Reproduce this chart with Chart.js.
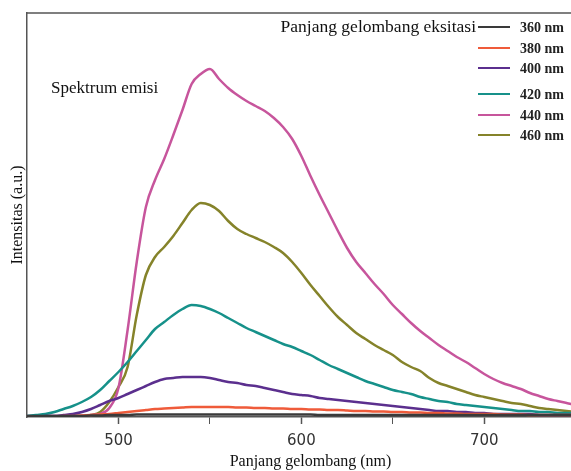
<!DOCTYPE html>
<html>
<head>
<meta charset="utf-8">
<script src="https://cdn.jsdelivr.net/npm/chart.js"></script>
<style>
  html, body { margin: 0; padding: 0; background: #fff; overflow: hidden; }
  #wrap { width: 600px; height: 471px; }
</style>
</head>
<body>
<div id="wrap"><canvas id="c" width="600" height="471"></canvas></div>
<script>
// wavelength (nm)
const wavelengths = [450,455,460,465,470,475,480,485,490,495,
  500,505,510,515,520,525,530,535,540,545,
  550,555,560,565,570,575,580,585,590,595,
  600,605,610,615,620,625,630,635,640,645,
  650,655,660,665,670,675,680,685,690,695,
  700,705,710,715,720,725,730,735,740,745,750];

// emission intensity (a.u.) for each excitation wavelength
const em360 = [1,1,1,1,1,1,1,1.5,1.5,2, 2,2,2.5,2.5,2.5,2.5,2.5,2.5,2.5,2.5,
  2.5,2.5,2.5,2.5,2.5,2.5,2.5,2.5,2.5,2.5, 2.5,2.5,2,2,2,2,2,2,2,2,
  2,2,2,2,2,2,2,2,2,2, 2,2,2,2,2,2,2,2,2,2, 2];
const em380 = [0,0,0.5,0.5,1,1,1.5,2,2.5,3, 4,5,6,7,8,8.5,9,9.5,10,10,
  10,10,10,9.5,9.5,9,9,8.5,8.5,8, 8,7.5,7.5,7,7,6.5,6,6,5.5,5.5,
  5,5,4.5,4.5,4,4,3.5,3.5,3,3, 3,3,2.5,2.5,2.5,2,2,2,2,2, 2];
const em400 = [0,0,1,1,2,3,5,8,12,16, 19,23,27,31,35,38,39,40,40,40,
  39,37,35,34,32,31,29,27,25,23, 22,21,19,18,17,16,15,14,13,12,
  11,10,9,8,7,6,6,5,5,4, 4,3,3,3,3,3,2,2,2,2, 2];
const em420 = [1,2,3,5,8,11,15,20,27,36, 45,55,66,77,88,95,102,108,112,111,
  108,104,99,94,89,85,81,77,73,70, 66,62,57,52,48,44,40,36,33,30,
  27,25,23,20,18,16,15,13,12,11, 10,9,8,7,6,6,5,5,4,4, 4];
const em440 = [1,1,1,1,1,1,1,2,3,9, 29,87,155,210,237,258,282,307,333,343,
  348,338,329,322,316,311,306,299,290,278, 261,241,222,204,186,169,155,144,133,123,
  112,103,94,86,79,72,66,60,55,49, 43,38,34,31,28,24,21,18,16,14, 12];
const em460 = [0,0,0,0,0,1,1,2,5,15, 30,50,102,142,160,170,181,194,207,214,
  212,206,196,188,183,179,175,170,164,155, 144,132,121,110,100,92,84,78,72,67,
  62,55,50,46,39,34,31,28,25,22, 20,18,16,14,13,11,9,8,7,6, 5];

const seriesLabels = ['360 nm', '380 nm', '400 nm', '420 nm', '440 nm', '460 nm'];
const seriesData = [em360, em380, em400, em420, em440, em460];
const seriesColors = ['#3a3a3a', '#ef5b3a', '#5b2f8e', '#16918a', '#c7559c', '#85832a'];

const xTicks = [500, 600, 700];
const legendTitle = 'Panjang gelombang eksitasi';
const noteText = 'Spektrum emisi';
const xTitle = 'Panjang gelombang (nm)';
const yTitle = 'Intensitas (a.u.)';

const serif = '"Liberation Serif", "DejaVu Serif", serif';

// frame line, note and the legend box at top right
const extras = {
  id: 'extras',
  afterDraw(chart) {
    const ctx = chart.ctx;
    const a = chart.chartArea;
    ctx.save();
    ctx.strokeStyle = '#555';
    ctx.lineWidth = 1.5;
    ctx.beginPath();
    ctx.moveTo(a.left, a.top);
    ctx.lineTo(a.right, a.top);
    ctx.stroke();

    ctx.fillStyle = '#111';
    ctx.textBaseline = 'middle';
    ctx.font = '17px ' + serif;
    ctx.textAlign = 'left';
    ctx.fillText(noteText, 51, 89);

    ctx.font = '17.5px ' + serif;
    ctx.textAlign = 'right';
    ctx.fillText(legendTitle, 476, 27);

    const rows = [27, 48, 68, 94, 115, 135];
    ctx.font = 'bold 14px ' + serif;
    ctx.textAlign = 'left';
    seriesLabels.forEach((lab, i) => {
      ctx.strokeStyle = seriesColors[i];
      ctx.lineWidth = 2;
      ctx.beginPath();
      ctx.moveTo(478, rows[i]);
      ctx.lineTo(510, rows[i]);
      ctx.stroke();
      ctx.fillStyle = '#222';
      ctx.fillText(lab, 520, rows[i] + 1);
    });
    ctx.restore();
  }
};

new Chart(document.getElementById('c'), {
  type: 'line',
  data: {
    datasets: seriesData.map((vals, i) => ({
      label: seriesLabels[i],
      data: wavelengths.map((w, j) => ({x: w, y: vals[j]})),
      borderColor: seriesColors[i],
      backgroundColor: seriesColors[i],
      borderWidth: 2.5,
      pointRadius: 0,
      cubicInterpolationMode: 'monotone',
      fill: false
    }))
  },
  options: {
    responsive: false,
    animation: false,
    devicePixelRatio: 1,
    layout: { padding: { top: 13, right: 6, left: 0, bottom: 0 } },
    plugins: { legend: { display: false }, tooltip: { enabled: false } },
    scales: {
      x: {
        type: 'linear',
        min: 450,
        max: 760,
        afterFit(s) { s.height = 54; },
        afterBuildTicks(s) {
          s.ticks = [500, 550, 600, 650, 700, 750].map(v => ({value: v}));
        },
        ticks: {
          padding: 8,
          maxRotation: 0,
          autoSkip: false,
          color: '#333',
          font: { family: '"DejaVu Sans", sans-serif', size: 15 },
          callback: v => xTicks.includes(v) ? String(v) : ''
        },
        grid: {
          display: true,
          drawOnChartArea: false,
          drawTicks: true,
          tickLength: 7,
          tickColor: '#555',
          tickWidth: c => (c.tick && xTicks.includes(c.tick.value)) ? 1.5 : 1
        },
        border: { display: true, color: '#555', width: 1.5 },
        title: {
          display: true,
          text: xTitle,
          color: '#111',
          font: { family: serif, size: 16 },
          padding: { top: 0, bottom: 0 }
        }
      },
      y: {
        min: 0,
        max: 404,
        afterFit(s) { s.width = 27; },
        ticks: { display: false },
        grid: { display: false },
        border: { display: true, color: '#555', width: 1.5 },
        title: {
          display: true,
          text: yTitle,
          color: '#111',
          font: { family: serif, size: 16 },
          padding: { top: 8, bottom: 0 }
        }
      }
    }
  },
  plugins: [extras]
});
</script>
</body>
</html>
